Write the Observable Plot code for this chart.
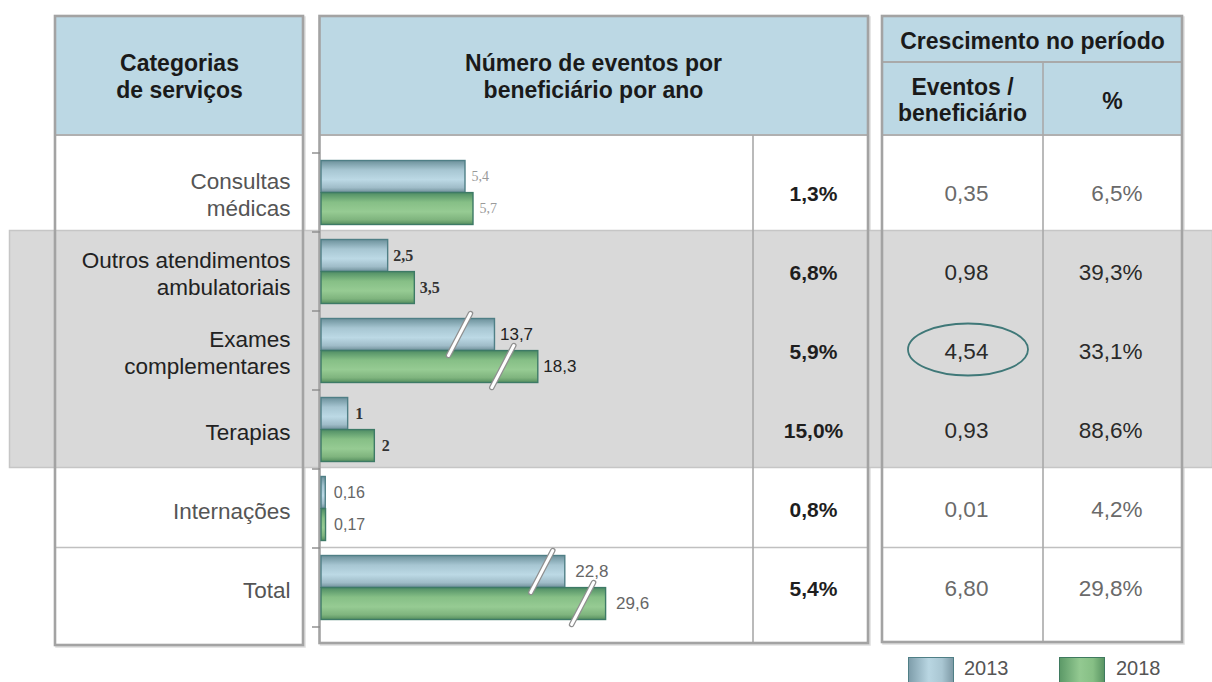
<!DOCTYPE html>
<html>
<head>
<meta charset="utf-8">
<script src="https://cdn.jsdelivr.net/npm/d3@7"></script>
<script src="https://cdn.jsdelivr.net/npm/@observablehq/plot@0.6"></script>
<style>
  html, body { margin: 0; padding: 0; background: #fff; }
  body { font-family: "Liberation Sans", Arial, sans-serif; width: 1212px; height: 682px; overflow: hidden; }
  #legend { position: relative; width: 1212px; height: 32px; }
  #legend .sw { position: absolute; top: 7px; width: 46px; height: 30px; box-sizing: border-box; border: 1.5px solid #4f7f86; }
  #legend .lb { position: absolute; top: 6px; font-size: 20px; line-height: 24px; color: #555; }
</style>
</head>
<body>
<div id="chart"></div>
<div id="legend">
  <div class="sw" style="left:908px;background:linear-gradient(to right,#7f9eab,#b9d6e2 45%,#a9c6d2 75%,#7e9aa6);"></div>
  <div class="lb" style="left:964px;">2013</div>
  <div class="sw" style="left:1059px;border-color:#3f7a5f;background:linear-gradient(to right,#5d9a68,#93c991 45%,#86bf85 75%,#5a9563);"></div>
  <div class="lb" style="left:1116px;">2018</div>
</div>
<script>
// ---------------- data ----------------
const categories = ["Consultas médicas", "Outros atendimentos ambulatoriais", "Exames complementares", "Terapias", "Internações", "Total"];
const categoryLabels = ["Consultas\nmédicas", "Outros atendimentos\nambulatoriais", "Exames\ncomplementares", "Terapias", "Internações", "Total"];
const years = ["2013", "2018"];
const values2013 = [5.4, 2.5, 13.7, 1, 0.16, 22.8];
const values2018 = [5.7, 3.5, 18.3, 2, 0.17, 29.6];
const annualGrowthPct = [1.3, 6.8, 5.9, 15.0, 0.8, 5.4];
const growthEvents = [0.35, 0.98, 4.54, 0.93, 0.01, 6.80];
const growthPct = [6.5, 39.3, 33.1, 88.6, 4.2, 29.8];
const highlighted = ["Outros atendimentos ambulatoriais", "Exames complementares", "Terapias"];
const brokenBars = ["Exames complementares", "Total"];
const circled = "Exames complementares";

// ---------------- helpers ----------------
const comma = (s) => String(s).replace(".", ",");
const rows = categories.flatMap((c, i) => [
  {category: c, year: years[0], value: values2013[i]},
  {category: c, year: years[1], value: values2018[i]}
]);
const tableRows = categories.map((c, i) => ({
  category: c,
  label: categoryLabels[i],
  annual: comma(annualGrowthPct[i].toFixed(1)) + "%",
  events: comma(growthEvents[i].toFixed(2)),
  pct: comma(growthPct[i].toFixed(1)) + "%",
  hi: highlighted.includes(c)
}));

// ---------------- layout / style (not data) ----------------
const W = 1212, H = 650;
const SANS = "Liberation Sans, Arial, sans-serif";
const SERIF = "Liberation Serif, Times New Roman, serif";
const boxes = [
  {x1: 55, x2: 303, y1: 16, y2: 645},
  {x1: 319.5, x2: 868, y1: 16, y2: 643},
  {x1: 882, x2: 1182, y1: 16, y2: 642}
];
const headerBottom = 135, subHeaderLine = 62, midDivider = 753, rightDivider = 1043;
const barInset = 7.5;
const labelStyle = {
  "Consultas médicas": {fontFamily: SERIF, fontSize: 14, fill: "#9a9a9a", fontWeight: "normal", dx: 6},
  "Outros atendimentos ambulatoriais": {fontFamily: SERIF, fontSize: 16, fill: "#333", fontWeight: "bold", dx: 5},
  "Exames complementares": {fontFamily: SANS, fontSize: 17, fill: "#222", fontWeight: "normal", dx: 5},
  "Terapias": {fontFamily: SERIF, fontSize: 16, fill: "#333", fontWeight: "bold", dx: 7},
  "Internações": {fontFamily: SANS, fontSize: 16, fill: "#666", fontWeight: "normal", dx: 8},
  "Total": {fontFamily: SANS, fontSize: 17, fill: "#666", fontWeight: "normal", dx: 10}
};
const breakOffset = {"Exames complementares": 35, "Total": 23};

// chrome: table boxes, grey band, header fills, grid lines, axis ticks
function chrome(I, s) {
  const bw = s.y.bandwidth ? s.y.bandwidth() : 79.17;
  const x0 = s.x(0);
  const top = s.y(categories[0]);
  const bandTop = s.y(highlighted[0]);
  const bandBottom = s.y(highlighted[highlighted.length - 1]) + bw;
  const totalTop = s.y("Total");
  const g = d3.create("svg:g");
  for (const b of boxes) {
    g.append("rect").attr("x", b.x1 + 1.5).attr("y", b.y1 + 1.5).attr("width", b.x2 - b.x1).attr("height", b.y2 - b.y1)
      .attr("fill", "none").attr("stroke", "#dedede").attr("stroke-width", 2.5);
    g.append("rect").attr("x", b.x1).attr("y", b.y1).attr("width", b.x2 - b.x1).attr("height", b.y2 - b.y1).attr("fill", "#fff");
  }
  g.append("rect").attr("x", 9.5).attr("y", bandTop - 1.5).attr("width", W - 9).attr("height", bandBottom - bandTop)
    .attr("fill", "#d9d9d9").attr("stroke", "#c6c6c6").attr("stroke-width", 1.5);
  for (const b of boxes) {
    g.append("rect").attr("x", b.x1).attr("y", b.y1).attr("width", b.x2 - b.x1).attr("height", headerBottom - b.y1).attr("fill", "#bcd8e4");
  }
  const line = (x1, y1, x2, y2, c = "#a9a9a9", w = 1.6) =>
    g.append("line").attr("x1", x1).attr("y1", y1).attr("x2", x2).attr("y2", y2).attr("stroke", c).attr("stroke-width", w);
  for (const b of boxes) {
    line(b.x1, headerBottom, b.x2, headerBottom, "#b0b0b0", 1.8);
    line(b.x1, totalTop - 0.5, b.x2, totalTop - 0.5, "#c0c0c0", 1.6);
  }
  line(boxes[2].x1, subHeaderLine, boxes[2].x2, subHeaderLine, "#a9a9a9", 1.8);
  line(midDivider, headerBottom, midDivider, boxes[1].y2, "#a9a9a9", 1.6);
  line(rightDivider, subHeaderLine, rightDivider, boxes[2].y2, "#a9a9a9", 1.6);
  for (const b of boxes) {
    g.append("rect").attr("x", b.x1).attr("y", b.y1).attr("width", b.x2 - b.x1).attr("height", b.y2 - b.y1)
      .attr("fill", "none").attr("stroke", "#a3a3a3").attr("stroke-width", 2.6);
  }
  for (let i = 0; i <= categories.length; i++) {
    const yy = top + i * bw;
    line(x0 - 9, yy, x0 - 1, yy, "#8a8a8a", 1.4);
  }
  return g.node();
}

// overlays: axis-break slashes and the highlight ellipse
function overlays(I, s) {
  const bw = s.y.bandwidth ? s.y.bandwidth() : 79.17;
  const g = d3.create("svg:g");
  for (const r of rows.filter(d => brokenBars.includes(d.category))) {
    const first = r.year === years[0];
    const cy = s.y(r.category) + (first ? barInset + (bw / 2 - barInset) / 2 : bw / 2 + (bw / 2 - barInset) / 2);
    const cx = s.x(r.value) - breakOffset[r.category];
    const dx = 11, dy = 21;
    g.append("line").attr("x1", cx - dx).attr("y1", cy + dy).attr("x2", cx + dx).attr("y2", cy - dy)
      .attr("stroke", "#8f8f8f").attr("stroke-width", 5.5).attr("stroke-linecap", "round");
    g.append("line").attr("x1", cx - dx).attr("y1", cy + dy).attr("x2", cx + dx).attr("y2", cy - dy)
      .attr("stroke", "#ffffff").attr("stroke-width", 3).attr("stroke-linecap", "round");
  }
  g.append("ellipse").attr("cx", 968).attr("cy", s.y(circled) + bw / 2 - 1).attr("rx", 60).attr("ry", 26)
    .attr("fill", "none").attr("stroke", "#3f7878").attr("stroke-width", 1.8);
  return g.node();
}

const header = (text, dx, dy, extra = {}) => Plot.text([text], {
  text: d => d, frameAnchor: "top-left", dx, dy, textAnchor: "middle", lineAnchor: "middle",
  fontFamily: SANS, fontWeight: "bold", fontSize: 23, fill: "#1a1a1a", lineHeight: 1.2, ...extra
});

const bw0 = (627 - 152) / categories.length;
const labelMarks = [];
for (const c of categories) {
  const st = labelStyle[c];
  for (const y of years) {
    labelMarks.push(Plot.text(rows.filter(d => d.category === c && d.year === y), {
      x: "value", y: "category", text: d => comma(d.value),
      textAnchor: "start", dx: st.dx, dy: y === years[0] ? -16 : 16,
      fontFamily: st.fontFamily, fontSize: st.fontSize, fill: st.fill, fontWeight: st.fontWeight
    }));
  }
}

const colText = (data, opts) => Plot.text(data, {y: "category", frameAnchor: "left", dy: 1, fontFamily: SANS, fontSize: 22.5, ...opts});

const svg = Plot.plot({
  width: W, height: H,
  marginTop: 0, marginRight: 0, marginBottom: 0, marginLeft: 0,
  style: {fontFamily: SANS, background: "white", overflow: "visible"},
  x: {type: "linear", domain: [0, 6, 14, 18, 30], range: [321, 481, 495, 536, 608], axis: null},
  y: {type: "band", domain: categories, range: [152, 627], padding: 0, axis: null},
  marks: [
    chrome,
    Plot.barX(rows.filter(d => d.year === years[0]), {
      x: "value", y: "category", fill: "url(#grad2013)", stroke: "#4f7f86", strokeWidth: 1.4,
      insetTop: barInset, insetBottom: bw0 / 2
    }),
    Plot.barX(rows.filter(d => d.year === years[1]), {
      x: "value", y: "category", fill: "url(#grad2018)", stroke: "#3d7a66", strokeWidth: 1.4,
      insetTop: bw0 / 2, insetBottom: barInset
    }),
    ...labelMarks,
    colText(tableRows.filter(d => !d.hi), {text: "label", dx: 290, textAnchor: "end", fill: "#555", lineHeight: 1.2}),
    colText(tableRows.filter(d => d.hi), {text: "label", dx: 290, textAnchor: "end", fill: "#222", lineHeight: 1.2}),
    colText(tableRows, {text: "annual", dx: 813, textAnchor: "middle", fontWeight: "bold", fontSize: 21, fill: "#1e1e1e"}),
    colText(tableRows.filter(d => !d.hi), {text: "events", dx: 966, textAnchor: "middle", fill: "#6a6a6a"}),
    colText(tableRows.filter(d => d.hi), {text: "events", dx: 966, textAnchor: "middle", fill: "#2a2a2a"}),
    colText(tableRows.filter(d => !d.hi), {text: "pct", dx: 1142, textAnchor: "end", fill: "#6a6a6a"}),
    colText(tableRows.filter(d => d.hi), {text: "pct", dx: 1142, textAnchor: "end", fill: "#2a2a2a"}),
    overlays,
    header("Categorias\nde serviços", 179, 75),
    header("Número de eventos por\nbeneficiário por ano", 593, 75),
    header("Crescimento no período", 1032, 40),
    header("Eventos /\nbeneficiário", 962, 99, {lineHeight: 1.15}),
    header("%", 1112, 100)
  ]
});

d3.select(svg).insert("defs", ":first-child").html(`
  <linearGradient id="grad2013" x1="0" y1="0" x2="0" y2="1">
    <stop offset="0" stop-color="#6c919b"/>
    <stop offset="0.3" stop-color="#a7c6d2"/>
    <stop offset="0.6" stop-color="#bcd9e5"/>
    <stop offset="0.85" stop-color="#9fbcc8"/>
    <stop offset="1" stop-color="#6f8f99"/>
  </linearGradient>
  <linearGradient id="grad2018" x1="0" y1="0" x2="0" y2="1">
    <stop offset="0" stop-color="#4f8d64"/>
    <stop offset="0.3" stop-color="#86bf86"/>
    <stop offset="0.6" stop-color="#96cb93"/>
    <stop offset="0.85" stop-color="#7fb47e"/>
    <stop offset="1" stop-color="#558f5f"/>
  </linearGradient>`);

document.getElementById("chart").appendChild(svg);
</script>
</body>
</html>
